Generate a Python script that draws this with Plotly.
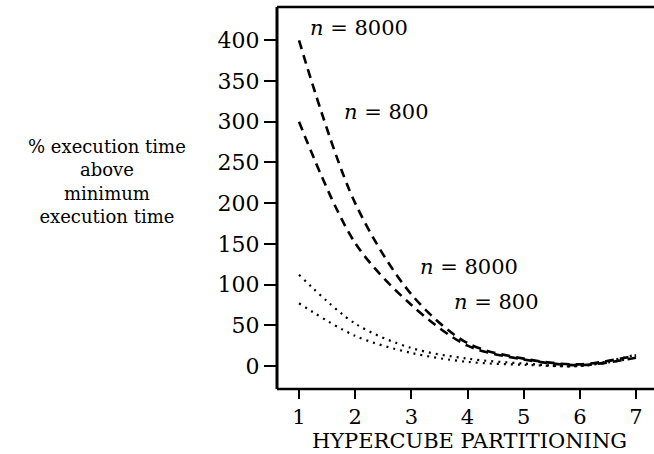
import plotly.graph_objects as go

# Data
partitioning = [1, 2, 3, 4, 5, 6, 7]
dashed_n8000 = [400, 200, 88, 28, 9, 2, 13]
dashed_n800 = [300, 151, 75, 25, 8, 1, 10]
dotted_n8000 = [112, 52, 22, 9, 3, 0, 14]
dotted_n800 = [77, 37, 16, 5, 1.5, 0, 10]

y_ticks = [0, 50, 100, 150, 200, 250, 300, 350, 400]
x_ticks = [1, 2, 3, 4, 5, 6, 7]

FONT = "DejaVu Serif"

fig = go.Figure()
for ys, dash, w in [
    (dashed_n8000, "9px,6px", 2.6),
    (dashed_n800, "9px,6px", 2.6),
    (dotted_n8000, "2px,5px", 2.2),
    (dotted_n800, "2px,5px", 2.2),
]:
    fig.add_trace(go.Scatter(
        x=partitioning, y=ys, mode="lines",
        line=dict(color="black", width=w, dash=dash, shape="spline", smoothing=0.9),
        showlegend=False, hoverinfo="skip",
    ))

fig.update_layout(
    template="none",
    width=662, height=454,
    margin=dict(l=277, r=0, t=7, b=65, pad=0),
    paper_bgcolor="white", plot_bgcolor="white",
    font=dict(family=FONT, size=22, color="black"),
    xaxis=dict(
        range=[0.608, 7.462], tickvals=x_ticks,
        showgrid=False, zeroline=False, showline=False,
        ticks="outside", ticklen=9, tickwidth=2, tickcolor="black",
        tickfont=dict(family=FONT, size=21),
        title=dict(text="HYPERCUBE PARTITIONING", font=dict(family=FONT, size=21), standoff=5),
    ),
    yaxis=dict(
        range=[-28.3, 441], tickvals=y_ticks,
        showgrid=False, zeroline=False, showline=False,
        ticks="outside", ticklen=12, tickwidth=2, tickcolor="black",
        tickfont=dict(family=FONT, size=22),
    ),
    shapes=[
        dict(type="line", xref="paper", yref="paper", x0=0, x1=1, y0=1, y1=1,
             line=dict(color="black", width=2.5)),
        dict(type="line", xref="paper", yref="paper", x0=0, x1=1, y0=0, y1=0,
             line=dict(color="black", width=2.5)),
        dict(type="line", xref="paper", yref="paper", x0=0, x1=0, y0=0, y1=1,
             line=dict(color="black", width=3)),
    ],
)

# Curve labels
labels = [
    ("<i>n</i> = 8000", 2.07, 415),
    ("<i>n</i> = 800", 2.55, 312),
    ("<i>n</i> = 8000", 4.03, 122),
    ("<i>n</i> = 800", 4.51, 79),
]
for txt, x, y in labels:
    fig.add_annotation(text=txt, x=x, y=y, xref="x", yref="y", showarrow=False,
                       font=dict(family=FONT, size=21, color="black"))

# Multi-line y-axis title
fig.add_annotation(text="% execution time<br>above<br>minimum<br>execution time",
                   x=(107 - 277) / 385, y=(389 - 181) / 382,
                   xref="paper", yref="paper", showarrow=False, align="center",
                   xanchor="center", yanchor="middle",
                   font=dict(family=FONT, size=18, color="black"))

fig.write_html(
    "out.html",
    config={"staticPlot": True, "displayModeBar": False},
    post_script="document.documentElement.style.overflow='hidden';document.body.style.overflow='hidden';",
)
